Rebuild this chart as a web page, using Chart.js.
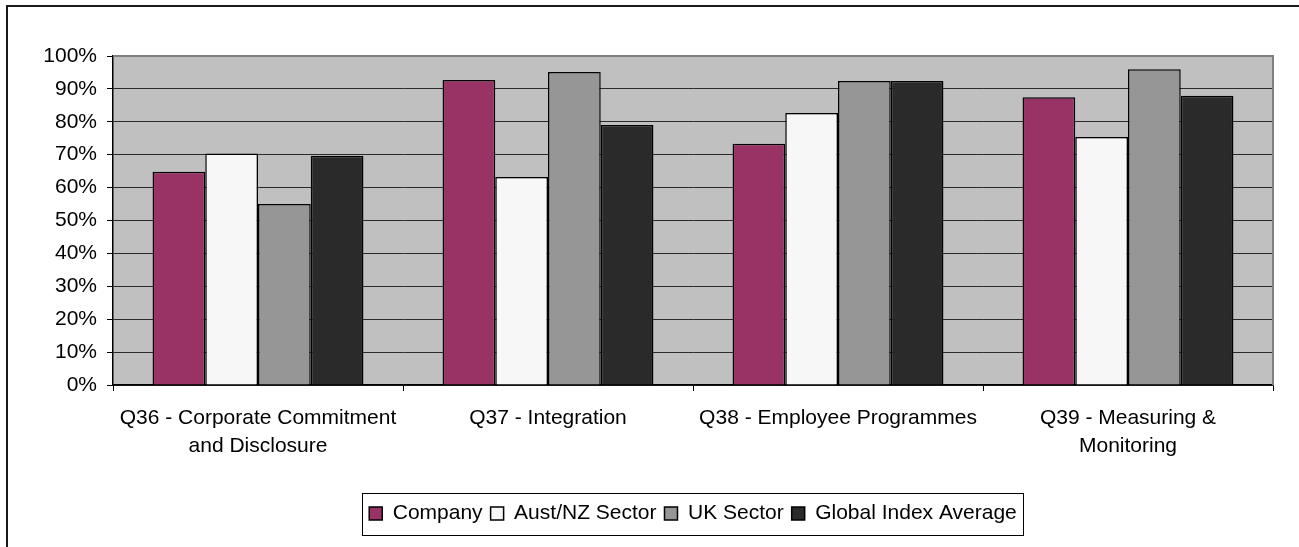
<!DOCTYPE html>
<html>
<head>
<meta charset="utf-8">
<script src="https://cdn.jsdelivr.net/npm/chart.js@4/dist/chart.umd.min.js"></script>
<style>
  html, body { margin: 0; padding: 0; background: #fff; }
  canvas { display: block; }
</style>
</head>
<body>
<canvas id="chart" width="1299" height="547"></canvas>
<script>
// categories (multi-line labels)
const categories = [
  ["Q36 - Corporate Commitment", "and Disclosure"],
  "Q37 - Integration",
  "Q38 - Employee Programmes",
  ["Q39 - Measuring &", "Monitoring"]
];

// values in %
const company = [64.8, 92.7, 73.3, 87.5];
const austNz = [70.4, 63.2, 82.7, 75.4];
const ukSector = [55.0, 95.1, 92.4, 96.0];
const globalAvg = [69.7, 79.0, 92.4, 87.9];

const yTicks = [0, 10, 20, 30, 40, 50, 60, 70, 80, 90, 100];

const FONT = "'Liberation Sans', Arial, sans-serif";

// plot background, outer frame and legend box
const decor = {
  id: "decor",
  beforeDraw(chart) {
    const { ctx, chartArea: a } = chart;
    ctx.save();
    ctx.fillStyle = "#fff";
    ctx.fillRect(0, 0, chart.width, chart.height);
    ctx.fillStyle = "#c0c0c0";
    ctx.fillRect(a.left, a.top, a.right - a.left, a.bottom - a.top);
    // frame of the whole chart (only top/left visible)
    ctx.fillStyle = "#1a1a1a";
    ctx.fillRect(6, 5, chart.width - 6, 2);
    ctx.fillRect(6, 5, 2, chart.height - 5);
    ctx.restore();
  },
  beforeDatasetsDraw(chart) {
    const { ctx, chartArea: a } = chart;
    ctx.save();
    ctx.strokeStyle = "#808080";
    ctx.lineWidth = 2;
    ctx.beginPath();
    ctx.moveTo(a.left, a.top);
    ctx.lineTo(a.right, a.top);
    ctx.lineTo(a.right, a.bottom);
    ctx.stroke();
    ctx.restore();
  },
  afterDraw(chart) {
    const boxes = chart.legend.legendHitBoxes;
    if (!boxes || !boxes.length) return;
    const left = Math.min(...boxes.map(b => b.left)) - 7;
    const right = Math.max(...boxes.map(b => b.left + b.width)) + 6;
    const top = Math.min(...boxes.map(b => b.top)) - 10;
    const bottom = Math.max(...boxes.map(b => b.top + b.height)) + 11;
    const ctx = chart.ctx;
    ctx.save();
    ctx.strokeStyle = "#000";
    ctx.lineWidth = 1;
    ctx.strokeRect(Math.round(left) + 0.5, Math.round(top) + 0.5, Math.round(right - left), Math.round(bottom - top));
    ctx.restore();
  }
};

const bar = (label, data, color) => ({
  label,
  data,
  backgroundColor: color,
  borderColor: "#000",
  borderWidth: 1.5,
  borderSkipped: "start",
  categoryPercentage: 4 / 5.5,
  barPercentage: 1.0
});

new Chart(document.getElementById("chart"), {
  type: "bar",
  data: {
    labels: categories,
    datasets: [
      bar("Company", company, "#993366"),
      bar("Aust/NZ Sector", austNz, "#f7f7f7"),
      bar("UK Sector", ukSector, "#969696"),
      bar("Global Index Average", globalAvg, "#2a2a2a")
    ]
  },
  options: {
    responsive: false,
    animation: false,
    layout: { padding: { left: 0, right: 26, top: 56, bottom: 13 } },
    plugins: {
      tooltip: { enabled: false },
      legend: {
        position: "bottom",
        fullSize: false,
        labels: {
          color: "#000",
          font: { family: FONT, size: 21 },
          boxWidth: 13,
          boxHeight: 13,
          padding: 8
        }
      }
    },
    scales: {
      x: {
        afterFit(scale) { scale.height = 110; },
        grid: {
          offset: true,
          drawOnChartArea: false,
          drawTicks: true,
          tickLength: 6,
          color: "#000"
        },
        border: { color: "#000", width: 1.5 },
        ticks: {
          color: "#000",
          font: { family: FONT, size: 21, lineHeight: 1.35 },
          padding: 13,
          maxRotation: 0,
          autoSkip: false
        }
      },
      y: {
        min: 0,
        max: 100,
        afterFit(scale) { scale.width = 113; },
        afterBuildTicks(scale) { scale.ticks = yTicks.map(v => ({ value: v })); },
        grid: {
          color: ctx => (ctx.tick && ctx.tick.value === 100 ? "rgba(0,0,0,0)" : "#2b2b2b"),
          tickColor: "#000",
          lineWidth: 1,
          tickLength: 6
        },
        border: { color: "#000", width: 1.5 },
        ticks: {
          color: "#000",
          font: { family: FONT, size: 21 },
          padding: 10,
          callback: v => v + "%"
        }
      }
    }
  },
  plugins: [decor]
});
</script>
</body>
</html>
